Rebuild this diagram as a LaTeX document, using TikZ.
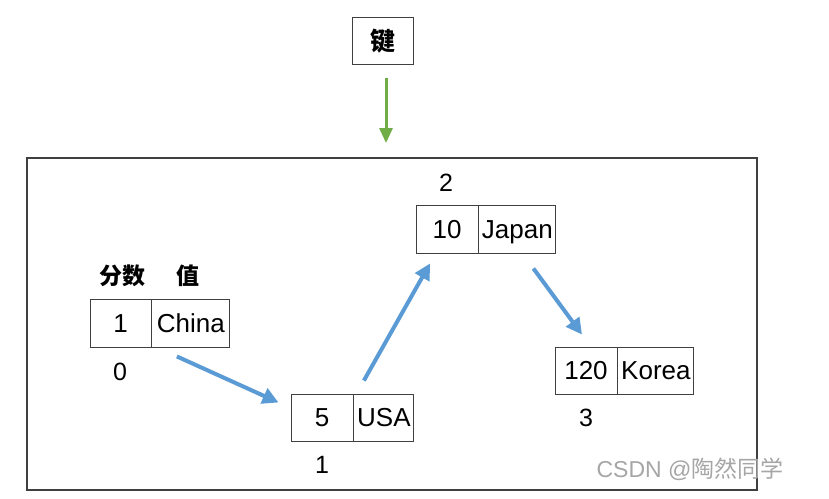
\documentclass[tikz,border=0pt]{standalone}
\usepackage{fontspec}
\setmainfont{Liberation Sans}
\newfontfamily\cjk{Noto Sans CJK SC}
\usetikzlibrary{arrows.meta,calc}
\definecolor{arrblue}{HTML}{5B9BD5}
\definecolor{arrgreen}{HTML}{70AD47}
\definecolor{boxgray}{HTML}{404040}
\begin{document}
\begin{tikzpicture}[x=1pt,y=-1pt,
  cell/.style={draw=boxgray, line width=0.9pt, minimum height=48pt, inner sep=0pt, text height=18.5pt, text depth=0pt, font=\fontsize{26}{30}\selectfont},
  lbl/.style={inner sep=0pt, font=\fontsize{25}{29}\selectfont},
  hdr/.style={inner sep=0pt, font=\cjk\bfseries\fontsize{23}{27}\selectfont},
  bluearrow/.style={draw=arrblue, line width=4pt, -{Triangle[length=16pt,width=16pt]}},
  greenarrow/.style={draw=arrgreen, line width=3pt, -{Triangle[length=15pt,width=13pt]}}]
\useasboundingbox (0,0) rectangle (829,498);
\fill[white] (0,0) rectangle (829,498);
% frame
\node[draw=boxgray, line width=1.3pt, minimum width=730pt, minimum height=332pt, inner sep=0pt] (frame) at (392,324) {};
% key box
\node[draw=boxgray, line width=1pt, minimum width=61pt, minimum height=47pt, inner sep=0pt, font=\cjk\bfseries\fontsize{25}{29}\selectfont] (key) at (383,41) {键};
\coordinate (keytip) at (386,143);
\draw[greenarrow] (386,78) -- (keytip);
% China
\node[cell, minimum width=61pt] (chinaK) at (120.5,323) {1};
\node[cell, minimum width=78pt, anchor=west] (chinaV) at (chinaK.east) {China};
\node[hdr] (h1) at (122,276) {分数};
\node[hdr] (h2) at (188,276) {值};
\node[lbl] (l0) at (120,372) {0};
% USA
\node[cell, minimum width=62pt, minimum height=47pt] (usaK) at (322,417.5) {5};
\node[cell, minimum width=60pt, minimum height=47pt, anchor=west] (usaV) at (usaK.east) {USA};
\node[lbl] (l1) at (322,465) {1};
% Japan
\node[cell, minimum width=62pt] (japanK) at (447,229) {10};
\node[cell, minimum width=77pt, anchor=west] (japanV) at (japanK.east) {Japan};
\node[lbl] (l2) at (446,183) {2};
% Korea
\node[cell, minimum width=62pt, minimum height=47pt] (koreaK) at (586,370.5) {120};
\node[cell, minimum width=76pt, minimum height=47pt, anchor=west] (koreaV) at (koreaK.east) {Korea};
\node[lbl] (l3) at (586,418) {3};
% arrows
\draw[bluearrow] ($(chinaV.south)+(-14,9)$) -- ($(usaK.west)+(-12,-15)$);
\draw[bluearrow] ($(usaV.north)+(-20,-13)$) -- ($(japanK.south)+(-17,10)$);
\draw[bluearrow] ($(japanV.south)+(16,15)$) -- ($(koreaK.north)+(-4,-12)$);
% watermark
\node[inner sep=0pt, text=black!35, font=\fontsize{23}{27}\selectfont] (wm) at (690,469) {CSDN @{\cjk 陶然同学}};
\end{tikzpicture}
\end{document}
